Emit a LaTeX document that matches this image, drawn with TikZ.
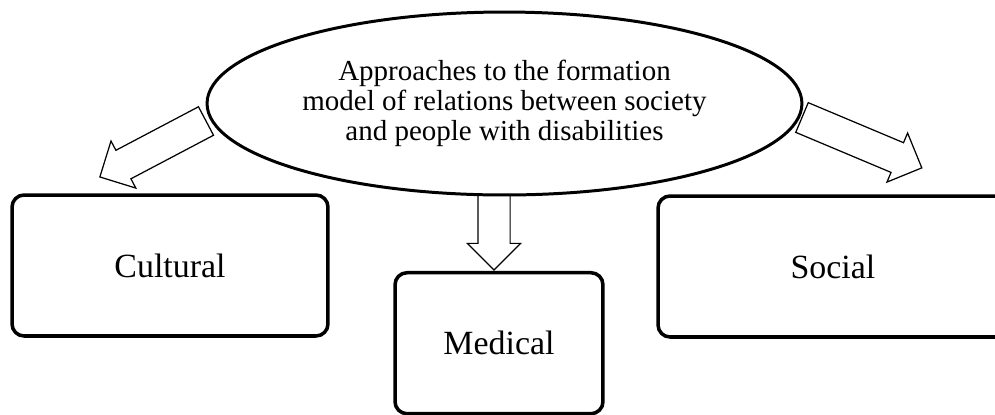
\documentclass[tikz,border=0pt]{standalone}
\usepackage{fontspec}
\setmainfont{Liberation Serif}
\usepackage{tikz}
\usetikzlibrary{positioning, shapes.geometric, shapes.arrows}
\usepackage{xcolor}
\definecolor{InkBlack}{gray}{0}
\tikzset{%
  approach_root/.style={%
    ellipse,%
    draw=InkBlack,%
    line width=1.7pt,%
    minimum width=11.9cm,%
    minimum height=3.66cm,%
    inner sep=0pt,%
    align=center,%
    font={\fontsize{16.5}{17.1}\selectfont},%
  },
  approach_box/.style={%
    rectangle,%
    rounded corners=0.24cm,%
    draw=InkBlack,%
    line width=2pt,%
    minimum height=2.82cm,%
    font={\fontsize{19.3}{22}\selectfont},%
  },
  hollow_arrow/.style={%
    single arrow,%
    draw=InkBlack,%
    line width=0.7pt,%
    inner xsep=0pt,%
    inner ysep=0.31cm,%
    outer sep=0pt,%
    single arrow head extend=0.21cm,%
    anchor=tail,%
  },
}

\begin{document}
\begin{tikzpicture}[x=0.02cm, y=-0.02cm]
    \useasboundingbox (0,0) rectangle (995,414);
    \clip (0,0) rectangle (995,414);

    \node [approach_root] (Root) at (504.5,103.5)
      {Approaches to the formation\\model of relations between society\\and people with disabilities};
    \node [approach_box, minimum width=6.32cm] (Cultural) at (170,265.5) {Cultural};
    \node [approach_box, minimum width=4.16cm, below=1.49cm of Root, xshift=-0.11cm]
      (Medical) {Medical};
    \node [approach_box, minimum width=7cm] (Social) at (833,266.5) {Social};

    \node [hollow_arrow, minimum height=2.4cm, rotate=207.8] (ToCultural) at (206,121) {};
    \node [hollow_arrow, minimum height=1.5cm, rotate=-90] (ToMedical) at (494,195) {};
    \node [hollow_arrow, minimum height=2.6cm, rotate=-22.8] (ToSocial) at (802,117.5) {};
  \end{tikzpicture}
\end{document}
